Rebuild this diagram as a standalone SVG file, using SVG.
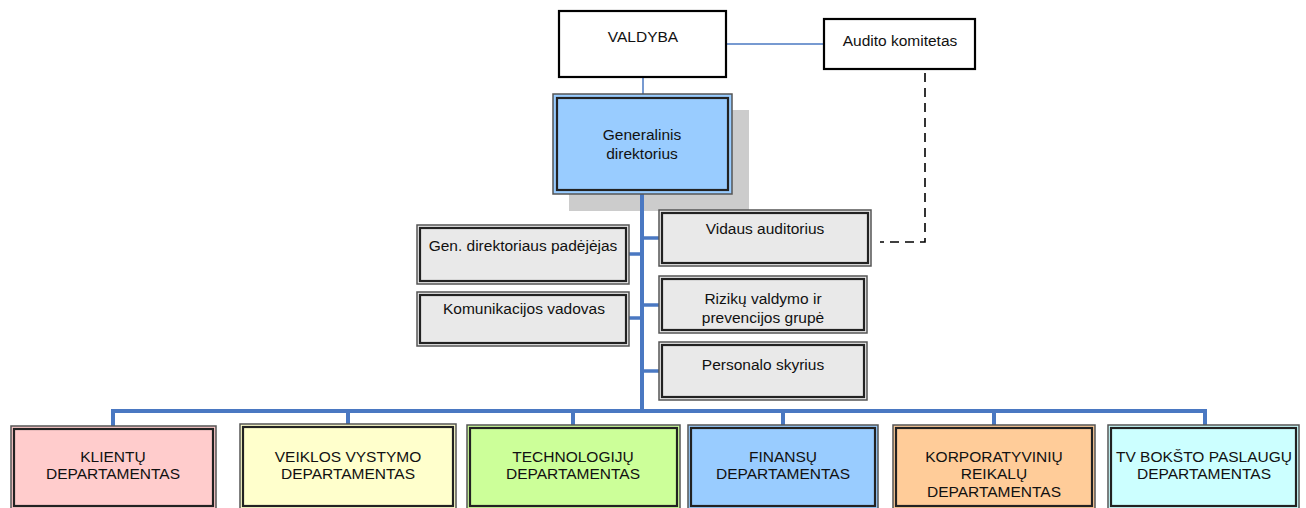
<svg xmlns="http://www.w3.org/2000/svg" width="1306" height="508" viewBox="0 0 1306 508">
<style>
text{font-family:"Liberation Sans",Arial,sans-serif;font-size:15.5px;fill:#111;text-anchor:middle}
.single{fill:#fff;stroke:#000;stroke-width:2.2}
.outer{stroke:#555;stroke-width:1.5}
.inner{stroke:#222;stroke-width:2.2}
.gray{fill:#E9E9E9}
.thin{stroke:#4A78C2;stroke-width:1.5;fill:none}
.thick{stroke:#4A78C2;stroke-width:4;fill:none}
.branch{stroke:#4A78C2;stroke-width:3.5;fill:none}
.dash{stroke:#000;stroke-width:1.6;stroke-dasharray:9 6;fill:none}
</style>
<rect x="0" y="0" width="1306" height="508" fill="#fff"/>
<rect x="569" y="110" width="180" height="101" fill="#CCCCCC"/>
<g id="connectors">
<line class="thin" x1="726" y1="44" x2="824" y2="44"/>
<line class="thin" x1="643" y1="77" x2="643" y2="94"/>
<line class="thick" x1="642" y1="194" x2="642" y2="411"/>
<line class="branch" x1="642" y1="238" x2="659" y2="238"/>
<line class="branch" x1="629" y1="254" x2="642" y2="254"/>
<line class="branch" x1="642" y1="305" x2="659" y2="305"/>
<line class="branch" x1="629" y1="318" x2="642" y2="318"/>
<line class="branch" x1="642" y1="371" x2="659" y2="371"/>
<path class="thick" d="M113,426 V411 H1205 V426"/>
<line class="thick" x1="348" y1="411" x2="348" y2="424"/>
<line class="thick" x1="573" y1="411" x2="573" y2="425"/>
<line class="thick" x1="783" y1="411" x2="783" y2="425"/>
<line class="thick" x1="994" y1="411" x2="994" y2="425"/>
<path class="dash" d="M925,73 V242 H880"/>
</g>
<g id="valdyba">
<rect class="single" x="559" y="11" width="167" height="66"/>
<text x="643" y="42">VALDYBA</text>
</g>
<g id="audito">
<rect class="single" x="824" y="19" width="151" height="50"/>
<text x="900" y="46">Audito komitetas</text>
</g>
<g id="gd">
<rect class="outer" x="553" y="94" width="179" height="100" fill="#99CCFF"/>
<rect class="inner" x="557" y="98" width="171" height="92" fill="#99CCFF"/>
<text x="642" y="140">Generalinis</text>
<text x="642" y="159">direktorius</text>
</g>
<g id="vidaus">
<rect class="outer gray" x="659" y="210" width="212" height="56"/>
<rect class="inner gray" x="662" y="213" width="206" height="50"/>
<text x="765" y="234">Vidaus auditorius</text>
</g>
<g id="padejejas">
<rect class="outer gray" x="417" y="225" width="212" height="59"/>
<rect class="inner gray" x="420" y="228" width="206" height="53"/>
<text x="523" y="251">Gen. direktoriaus padėjėjas</text>
</g>
<g id="komunikacijos">
<rect class="outer gray" x="417" y="292" width="212" height="54"/>
<rect class="inner gray" x="420" y="295" width="206" height="48"/>
<text x="524" y="314">Komunikacijos vadovas</text>
</g>
<g id="rizikos">
<rect class="outer gray" x="659" y="276" width="208" height="57"/>
<rect class="inner gray" x="662" y="279" width="202" height="51"/>
<text x="763" y="304">Rizikų valdymo ir</text>
<text x="763" y="323">prevencijos grupė</text>
</g>
<g id="personalo">
<rect class="outer gray" x="659" y="342" width="208" height="58"/>
<rect class="inner gray" x="662" y="345" width="202" height="52"/>
<text x="763" y="370">Personalo skyrius</text>
</g>
<g id="klientu">
<rect class="outer" x="11" y="426" width="205" height="84" fill="#FFCCCC"/>
<rect class="inner" x="14" y="429" width="199" height="77" fill="#FFCCCC"/>
<text x="113" y="462">KLIENTŲ</text>
<text x="113" y="479">DEPARTAMENTAS</text>
</g>
<g id="veiklos">
<rect class="outer" x="240" y="424" width="216" height="86" fill="#FFFFCC"/>
<rect class="inner" x="243" y="427" width="210" height="79" fill="#FFFFCC"/>
<text x="348" y="462">VEIKLOS VYSTYMO</text>
<text x="348" y="479">DEPARTAMENTAS</text>
</g>
<g id="technologiju">
<rect class="outer" x="467" y="425" width="213" height="85" fill="#CCFF99"/>
<rect class="inner" x="470" y="428" width="207" height="78" fill="#CCFF99"/>
<text x="573" y="462">TECHNOLOGIJŲ</text>
<text x="573" y="479">DEPARTAMENTAS</text>
</g>
<g id="finansu">
<rect class="outer" x="688" y="425" width="190" height="85" fill="#99CCFF"/>
<rect class="inner" x="691" y="428" width="184" height="78" fill="#99CCFF"/>
<text x="783" y="462">FINANSŲ</text>
<text x="783" y="479">DEPARTAMENTAS</text>
</g>
<g id="korporatyviniu">
<rect class="outer" x="893" y="425" width="202" height="85" fill="#FFCC99"/>
<rect class="inner" x="896" y="428" width="196" height="78" fill="#FFCC99"/>
<text x="994" y="462">KORPORATYVINIŲ</text>
<text x="994" y="479">REIKALŲ</text>
<text x="994" y="497">DEPARTAMENTAS</text>
</g>
<g id="tv">
<rect class="outer" x="1108" y="425" width="191" height="85" fill="#CCFFFF"/>
<rect class="inner" x="1111" y="428" width="185" height="78" fill="#CCFFFF"/>
<text x="1204" y="462">TV BOKŠTO PASLAUGŲ</text>
<text x="1204" y="479">DEPARTAMENTAS</text>
</g>
</svg>
